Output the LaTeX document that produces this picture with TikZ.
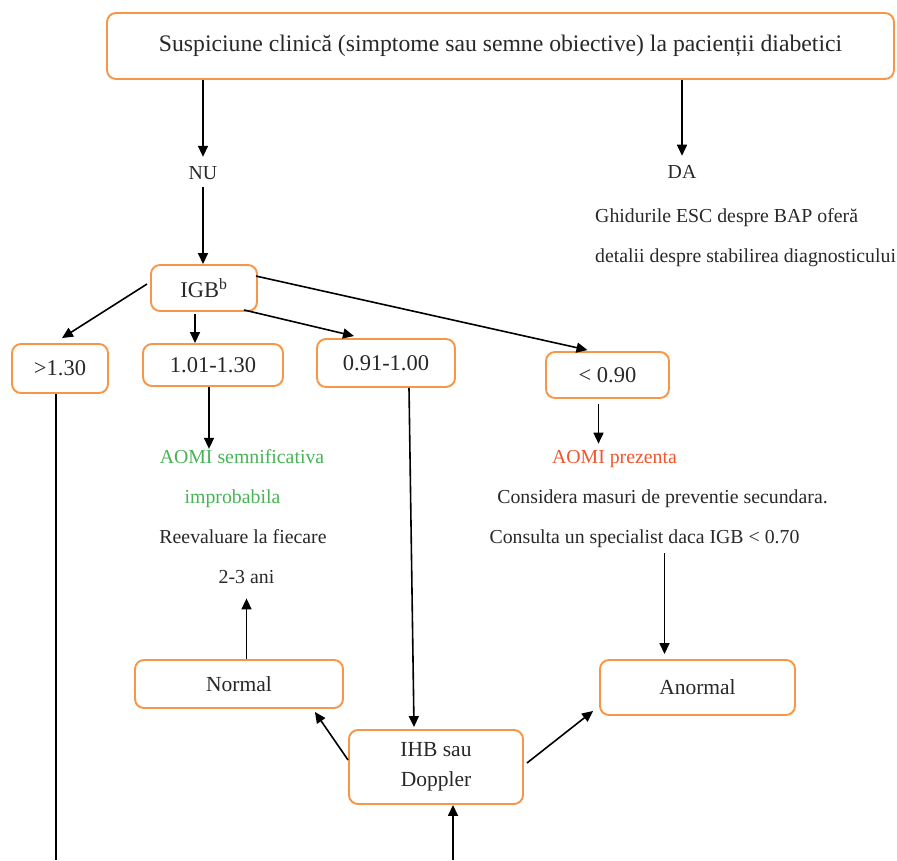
\documentclass[tikz,border=0pt]{standalone}
\usepackage{fontspec}
\setmainfont{Liberation Serif}
\usetikzlibrary{arrows.meta,calc}
\definecolor{boxor}{RGB}{247,150,70}
\definecolor{okgreen}{RGB}{70,180,85}
\definecolor{warnred}{RGB}{240,85,45}
\definecolor{txt}{RGB}{40,40,40}
\begin{document}
\begin{tikzpicture}[x=1pt,y=-1pt,
  box/.style={draw=boxor,line width=1.9pt,rounded corners=9pt,fill=white,inner sep=0pt,text=txt,align=center},
  numbox/.style={box,font=\fontsize{22.5}{26}\selectfont},
  resbox/.style={box,font=\fontsize{21.5}{30}\selectfont},
  arr/.style={line width=1.6pt,-{Triangle[length=11pt,width=10pt]}},
  ln/.style={line width=1.6pt},
  lbl/.style={inner sep=0pt,anchor=base,text=txt,font=\fontsize{19.8}{23}\selectfont},
  lblw/.style={lbl,anchor=base west}]
\useasboundingbox (0,0) rectangle (897,860);

% boxes
\node[box,font=\fontsize{23.7}{28}\selectfont,minimum width=787pt,minimum height=66pt] (top) at (500.5,46)
  {Suspiciune clinică (simptome sau semne obiective) la pacienții diabetici};
\node[numbox,minimum width=106pt,minimum height=46pt] (igb) at (204,288) {IGB\textsuperscript{b}};
\node[numbox,minimum width=96pt,minimum height=49pt] (g13) at (60,368.5) {>1.30};
\node[numbox,minimum width=140pt,minimum height=42pt] (g10) at (213,365) {1.01-1.30};
\node[numbox,minimum width=138pt,minimum height=48pt] (g09) at (386,363) {0.91-1.00};
\node[numbox,minimum width=123pt,minimum height=46pt] (g08) at (607.5,375) {< 0.90};
\node[resbox,minimum width=208pt,minimum height=48pt] (norm) at (239,684) {Normal};
\node[resbox,minimum width=195pt,minimum height=55pt] (anorm) at (697.5,687.5) {Anormal};
\node[resbox,minimum width=174pt,minimum height=74pt] (ihb) at (436,767) {IHB sau\\Doppler};

% free texts
\node[lbl] (nu) at (203,179) {NU};
\node[lbl] (da) at (682,178) {DA};
\node[lblw] (gh1) at (595,222) {Ghidurile ESC despre BAP oferă};
\node[lblw] (gh2) at (595,262) {detalii despre stabilirea diagnosticului};
\node[lbl,text=okgreen] (aomig) at (242,463) {AOMI semnificativa};
\node[lbl,text=okgreen] (impr) at (232.5,503) {improbabila};
\node[lbl] (reev1) at (243,543) {Reevaluare la fiecare};
\node[lbl] (reev2) at (246.5,583) {2-3 ani};
\node[lbl,text=warnred] (aomir) at (614.5,463) {AOMI prezenta};
\node[lbl] (cons1) at (662.5,503) {Considera masuri de preventie secundara.};
\node[lbl] (cons2) at (644.5,543) {Consulta un specialist daca IGB < 0.70};

% helper coordinates
\coordinate (b1) at (56,860);
\coordinate (b2) at (453,860);
\coordinate (p9) at ($(g10.south)+(-4,0)$);
\coordinate (p15) at ($(g08.south)+(-9,5)$);
\coordinate (p16) at ($(anorm.north)+(-33,-5)$);

% connectors
\draw[arr] (top.south -| nu) -- ($(nu.north)+(0,-9)$);
\draw[arr] (top.south -| da) -- ($(da.north)+(0,-9)$);
\draw[arr] ($(nu.south)+(0,8)$) -- (igb.north -| nu);
\draw[arr] ($(igb.west)+(-3,-4)$) -- ($(g13.north)+(2,-5)$);
\draw[arr] ($(igb.south)+(-9,2)$) -- ($(g10.north)+(-18,0)$);
\draw[arr] ($(igb.south east)+(-14,-2)$) -- ($(g09.north)+(-32,-2)$);
\draw[arr] ($(igb.north east)+(-2,12)$) -- ($(g08.north)+(-20,-1)$);
\draw[ln] (g13.south -| b1) -- (b1);
\draw[arr] (p9) -- (p9 |- aomig.north);
\draw[arr] (norm.north -| reev2.south) -- ($(reev2.south)+(0,15)$);
\draw[arr] ($(g09.south)+(23,0)$) -- ($(ihb.north)+(-22,-2)$);
\draw[arr] ($(ihb.west)+(0,-7)$) -- ($(norm.south east)+(-29,3)$);
\draw[arr] ($(ihb.east)+(3,-4)$) -- ($(anorm.south west)+(-6,-5)$);
\draw[arr] (b2) -- (b2 |- ihb.south);
\draw[arr] (p15) -- ($(p15 |- aomir.north)+(0,-6)$);
\draw[arr] ($(p16 |- cons2.south)+(0,6)$) -- (p16);
\end{tikzpicture}
\end{document}
